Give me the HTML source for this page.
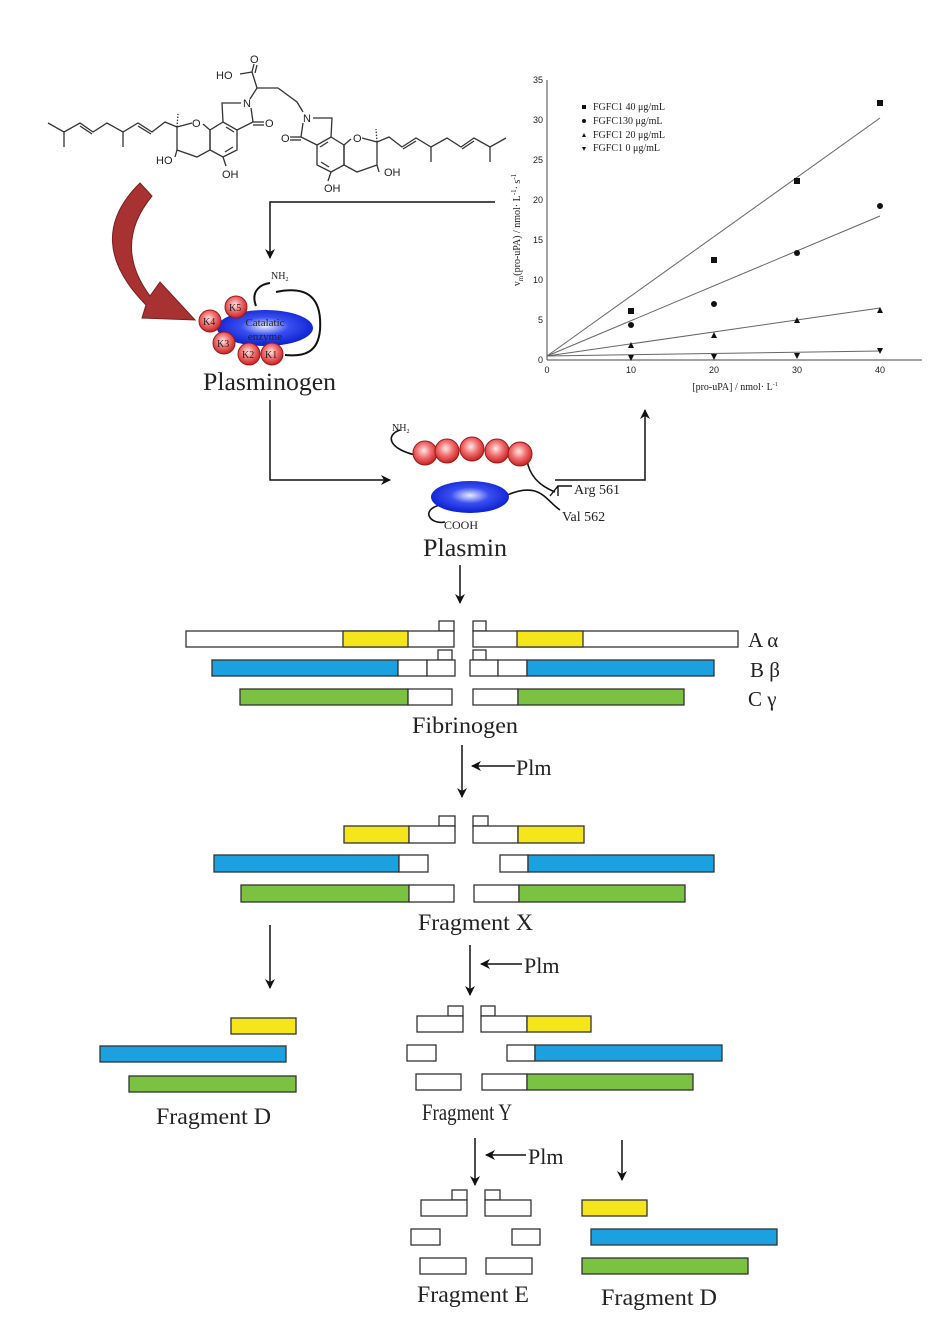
<!DOCTYPE html>
<html><head><meta charset="utf-8"><style>
html,body{margin:0;padding:0;background:#fff}
svg{display:block}
text{font-family:"Liberation Serif",serif;fill:#222}
.s{font-family:"Liberation Sans",sans-serif}
</style></head><body>
<svg width="947" height="1334" viewBox="0 0 947 1334" xmlns="http://www.w3.org/2000/svg">
<defs>
<marker id="ah" markerWidth="10" markerHeight="10" refX="9" refY="5" orient="auto" markerUnits="userSpaceOnUse"><path d="M0,0 L10,5 L0,10 L3,5 Z" fill="#111"/></marker>
<radialGradient id="bl" cx="50%" cy="45%" r="55%"><stop offset="0" stop-color="#e8ecff"/><stop offset="0.45" stop-color="#3a4ff0"/><stop offset="1" stop-color="#0a1fd0"/></radialGradient>
<radialGradient id="rd" cx="45%" cy="40%" r="60%"><stop offset="0" stop-color="#ffe8e8"/><stop offset="0.5" stop-color="#f07070"/><stop offset="1" stop-color="#c82020"/></radialGradient>
<g id="unit" fill="none" stroke="#333" stroke-width="1.3">
<polyline points="48,123 64,132 80,123 93,132 107,123 123,132 138,123 152,132 165,122 177,127"/>
<line x1="64" y1="132" x2="64" y2="147"/><line x1="123" y1="132" x2="123" y2="147"/>
<line x1="80" y1="126" x2="92" y2="134"/><line x1="138" y1="126" x2="151" y2="134"/>
<polyline points="177,127 192,123"/><polyline points="203,124 210,130 210,150 197,157 177,150 177,127"/>
<polygon points="210,130 223,122 237,130 237,150 223,157 210,150"/>
<line x1="226" y1="127" x2="234" y2="132"/><line x1="225" y1="152" x2="233" y2="147"/>
<polyline points="223,122 222,103 241,103"/><polyline points="251,108 253,122 237,130"/>
<line x1="253" y1="122" x2="264" y2="122"/><line x1="253" y1="125" x2="264" y2="125"/>
<line x1="177" y1="150" x2="175" y2="157"/><line x1="223" y1="157" x2="226" y2="166"/>
<line x1="177" y1="127" x2="178" y2="114" stroke-dasharray="1.5,1.5"/>
</g>
</defs>

<use href="#unit"/>
<use href="#unit" transform="translate(554,15) scale(-1,1)"/>
<g fill="none" stroke="#333" stroke-width="1.3">
<polyline points="250,99 257,88 278,88 297,102 303,112"/>
<polyline points="257,88 252,72"/>
<line x1="252" y1="72" x2="254" y2="64"/><line x1="255" y1="73" x2="257" y2="65"/>
<line x1="252" y1="72" x2="240" y2="74"/>
</g>
<g font-size="11" class="s">
<text x="216" y="79" class="s">HO</text><text x="250" y="63" class="s">O</text>
<text x="243" y="107" class="s">N</text><text x="265" y="127" class="s">O</text>
<text x="192" y="127" class="s">O</text><text x="156" y="164" class="s">HO</text>
<text x="222" y="178" class="s">OH</text>
<text x="303" y="122" class="s">N</text><text x="281" y="142" class="s">O</text>
<text x="353" y="142" class="s">O</text><text x="384" y="176" class="s">OH</text>
<text x="324" y="192" class="s">OH</text>
</g>

<!-- red curved arrow -->
<path d="M140,183 L152,196 Q112,245 150,296 L160,282 L195,320 L142,318 L146,305 Q82,240 140,183 Z" fill="#a83232" stroke="#7a1f1f" stroke-width="1"/>

<polyline points="495,202 270,202 270,258" fill="none" stroke="#111" stroke-width="1.5" marker-end="url(#ah)"/>

<!-- plasminogen -->
<path d="M256,306 C250,290 262,284 270,283 M276,292 C310,285 322,300 320,330 C318,352 305,357 285,355" fill="none" stroke="#111" stroke-width="2"/>
<text x="271" y="279" font-size="10">NH<tspan font-size="6" dy="2">2</tspan></text>
<ellipse cx="265" cy="328" rx="48" ry="18" fill="url(#bl)"/>
<g stroke="#a01818" stroke-width="1" fill="url(#rd)">
<circle cx="236" cy="307" r="11"/><circle cx="210" cy="321" r="11"/><circle cx="224" cy="343" r="11"/><circle cx="249" cy="354" r="11"/><circle cx="272" cy="354" r="11"/>
</g>
<g font-size="10" fill="#222"><text x="229" y="311">K5</text><text x="203" y="325">K4</text><text x="217" y="347">K3</text><text x="242" y="358">K2</text><text x="265" y="358">K1</text></g>
<text x="265" y="326" font-size="11" text-anchor="middle" fill="#9ab">Catalatic</text>
<text x="265" y="340" font-size="11" text-anchor="middle" fill="#9ab">enzyme</text>
<text x="203" y="390" font-size="25" textLength="133" lengthAdjust="spacingAndGlyphs">Plasminogen</text>

<polyline points="270,400 270,480 390,480" fill="none" stroke="#111" stroke-width="1.5" marker-end="url(#ah)"/>

<!-- plasmin -->
<path d="M400,430 C385,435 388,450 420,456 M527,460 C530,480 545,488 555,492 M505,496 C540,480 545,500 560,510 M440,505 C420,510 430,525 445,522" fill="none" stroke="#111" stroke-width="1.6"/>
<path d="M550,496 L558,486 L572,486 M558,496 L558,486" fill="none" stroke="#111" stroke-width="1.4"/>
<text x="392" y="431" font-size="10">NH<tspan font-size="6" dy="2">2</tspan></text>
<g stroke="#a01818" stroke-width="1" fill="url(#rd)">
<circle cx="425" cy="453" r="12"/><circle cx="447" cy="451" r="12"/><circle cx="472" cy="449" r="12"/><circle cx="497" cy="451" r="12"/><circle cx="520" cy="454" r="12"/>
</g>
<ellipse cx="470" cy="497" rx="39" ry="16" fill="url(#bl)"/>
<text x="444" y="529" font-size="12">COOH</text>
<text x="574" y="494" font-size="14">Arg 561</text>
<text x="562" y="521" font-size="14">Val 562</text>
<text x="423" y="556" font-size="25" textLength="84" lengthAdjust="spacingAndGlyphs">Plasmin</text>
<polyline points="555,480 645,480 645,410" fill="none" stroke="#111" stroke-width="1.5" marker-end="url(#ah)"/>
<line x1="460" y1="565" x2="460" y2="603" stroke="#111" stroke-width="1.5" marker-end="url(#ah)"/>

<!-- graph -->
<g stroke="#444" stroke-width="1" fill="none">
<line x1="547" y1="80" x2="547" y2="360"/><line x1="547" y1="360" x2="922" y2="360"/>
<line x1="547" y1="356" x2="880" y2="118" stroke="#666"/>
<line x1="547" y1="356" x2="880" y2="216" stroke="#666"/>
<line x1="547" y1="356" x2="880" y2="308" stroke="#666"/>
<line x1="547" y1="356" x2="880" y2="351" stroke="#666"/>
</g>
<g font-size="9" class="s" fill="#333" text-anchor="end">
<text x="543" y="363" class="s">0</text><text x="543" y="323" class="s">5</text><text x="543" y="283" class="s">10</text><text x="543" y="243" class="s">15</text><text x="543" y="203" class="s">20</text><text x="543" y="163" class="s">25</text><text x="543" y="123" class="s">30</text><text x="543" y="83" class="s">35</text>
</g>
<g font-size="9" class="s" text-anchor="middle">
<text x="547" y="373" class="s">0</text><text x="631" y="373" class="s">10</text><text x="714" y="373" class="s">20</text><text x="797" y="373" class="s">30</text><text x="880" y="373" class="s">40</text>
</g>
<g fill="#111">
<rect x="628" y="308" width="6" height="6"/><rect x="711" y="257" width="6" height="6"/><rect x="794" y="178" width="6" height="6"/><rect x="877" y="100" width="6" height="6"/>
<circle cx="631" cy="325" r="3"/><circle cx="714" cy="304" r="3"/><circle cx="797" cy="253" r="3"/><circle cx="880" cy="206" r="3"/>
<path d="M628,348 L631,342 L634,348Z M711,338 L714,332 L717,338Z M794,323 L797,317 L800,323Z M877,313 L880,307 L883,313Z"/>
<path d="M628,355 L631,361 L634,355Z M711,354 L714,360 L717,354Z M794,353 L797,359 L800,353Z M877,348 L880,354 L883,348Z"/>
<rect x="582" y="105" width="4" height="4"/><circle cx="584" cy="121" r="2"/><path d="M582,137 L584,133 L586,137Z M582,147 L584,151 L586,147Z"/>
</g>
<g font-size="10"><text x="593" y="110">FGFC1 40 μg/mL</text><text x="593" y="124">FGFC130 μg/mL</text><text x="593" y="138">FGFC1 20 μg/mL</text><text x="593" y="151">FGFC1 0 μg/mL</text></g>
<text x="735" y="390" font-size="10" text-anchor="middle">[pro-uPA] / nmol· L<tspan font-size="6" dy="-4">-1</tspan></text>
<text transform="translate(520,230) rotate(-90)" font-size="10" text-anchor="middle">v<tspan font-size="7" dy="3">m</tspan><tspan dy="-3">(pro-uPA) / nmol· L</tspan><tspan font-size="7" dy="-4">-1</tspan><tspan dy="4">· s</tspan><tspan font-size="7" dy="-4">-1</tspan></text>

<!-- bars -->
<g stroke="#333" stroke-width="1.3">
<rect x="439" y="621" width="15" height="10" fill="#fff"/><rect x="473" y="621" width="13" height="10" fill="#fff"/>
<rect x="186" y="631" width="268" height="16" fill="#fff"/><rect x="343" y="631" width="65" height="16" fill="#f5e61c"/>
<rect x="473" y="631" width="265" height="16" fill="#fff"/><rect x="517" y="631" width="66" height="16" fill="#f5e61c"/>
<rect x="438" y="650" width="14" height="10" fill="#fff"/><rect x="473" y="650" width="13" height="10" fill="#fff"/>
<rect x="212" y="660" width="186" height="16" fill="#1ba1df"/><rect x="398" y="660" width="29" height="16" fill="#fff"/><rect x="427" y="660" width="28" height="16" fill="#fff"/>
<rect x="470" y="660" width="28" height="16" fill="#fff"/><rect x="498" y="660" width="29" height="16" fill="#fff"/><rect x="527" y="660" width="187" height="16" fill="#1ba1df"/>
<rect x="240" y="689" width="168" height="16" fill="#7cc242"/><rect x="408" y="689" width="44" height="16" fill="#fff"/>
<rect x="473" y="689" width="45" height="16" fill="#fff"/><rect x="518" y="689" width="166" height="16" fill="#7cc242"/>
<rect x="439" y="816" width="16" height="10" fill="#fff"/><rect x="473" y="816" width="15" height="10" fill="#fff"/>
<rect x="344" y="826" width="65" height="17" fill="#f5e61c"/><rect x="409" y="826" width="46" height="17" fill="#fff"/>
<rect x="473" y="826" width="45" height="17" fill="#fff"/><rect x="518" y="826" width="66" height="17" fill="#f5e61c"/>
<rect x="214" y="855" width="185" height="17" fill="#1ba1df"/><rect x="399" y="855" width="29" height="17" fill="#fff"/>
<rect x="500" y="855" width="28" height="17" fill="#fff"/><rect x="528" y="855" width="186" height="17" fill="#1ba1df"/>
<rect x="241" y="885" width="168" height="17" fill="#7cc242"/><rect x="409" y="885" width="45" height="17" fill="#fff"/>
<rect x="474" y="885" width="45" height="17" fill="#fff"/><rect x="519" y="885" width="166" height="17" fill="#7cc242"/>
<rect x="231" y="1018" width="65" height="16" fill="#f5e61c"/>
<rect x="100" y="1046" width="186" height="16" fill="#1ba1df"/>
<rect x="129" y="1076" width="167" height="16" fill="#7cc242"/>
<rect x="448" y="1006" width="15" height="10" fill="#fff"/><rect x="481" y="1006" width="14" height="10" fill="#fff"/>
<rect x="417" y="1016" width="46" height="16" fill="#fff"/>
<rect x="481" y="1016" width="46" height="16" fill="#fff"/><rect x="527" y="1016" width="64" height="16" fill="#f5e61c"/>
<rect x="407" y="1045" width="29" height="16" fill="#fff"/>
<rect x="507" y="1045" width="28" height="16" fill="#fff"/><rect x="535" y="1045" width="187" height="16" fill="#1ba1df"/>
<rect x="416" y="1074" width="45" height="16" fill="#fff"/>
<rect x="482" y="1074" width="45" height="16" fill="#fff"/><rect x="527" y="1074" width="166" height="16" fill="#7cc242"/>
<rect x="452" y="1190" width="15" height="10" fill="#fff"/><rect x="485" y="1190" width="15" height="10" fill="#fff"/>
<rect x="421" y="1200" width="46" height="16" fill="#fff"/><rect x="485" y="1200" width="46" height="16" fill="#fff"/>
<rect x="411" y="1229" width="29" height="16" fill="#fff"/><rect x="512" y="1229" width="28" height="16" fill="#fff"/>
<rect x="420" y="1258" width="46" height="16" fill="#fff"/><rect x="486" y="1258" width="46" height="16" fill="#fff"/>
<rect x="582" y="1200" width="65" height="16" fill="#f5e61c"/>
<rect x="591" y="1229" width="186" height="16" fill="#1ba1df"/>
<rect x="582" y="1258" width="166" height="16" fill="#7cc242"/>
</g>

<g font-size="23">
<text x="748" y="647" font-size="21">A α</text><text x="750" y="677" font-size="21">B β</text><text x="748" y="706" font-size="21">C γ</text>
<text x="412" y="733" textLength="106" lengthAdjust="spacingAndGlyphs">Fibrinogen</text>
<text x="418" y="930" textLength="115" lengthAdjust="spacingAndGlyphs">Fragment X</text>
<text x="156" y="1124" textLength="115" lengthAdjust="spacingAndGlyphs">Fragment D</text>
<text x="422" y="1120" textLength="90" lengthAdjust="spacingAndGlyphs">Fragment Y</text>
<text x="417" y="1302" textLength="112" lengthAdjust="spacingAndGlyphs">Fragment E</text>
<text x="601" y="1305" textLength="116" lengthAdjust="spacingAndGlyphs">Fragment D</text>
<text x="516" y="775" font-size="22">Plm</text><text x="524" y="973" font-size="22">Plm</text><text x="528" y="1164" font-size="22">Plm</text>
</g>
<g stroke="#111" stroke-width="1.5" marker-end="url(#ah)">
<line x1="462" y1="745" x2="462" y2="797"/><line x1="515" y1="766" x2="472" y2="766"/>
<line x1="270" y1="925" x2="270" y2="988"/>
<line x1="470" y1="945" x2="470" y2="995"/><line x1="522" y1="964" x2="481" y2="964"/>
<line x1="475" y1="1138" x2="475" y2="1185"/><line x1="526" y1="1155" x2="486" y2="1155"/>
<line x1="622" y1="1140" x2="622" y2="1180"/>
</g>
</svg>
</body></html>
